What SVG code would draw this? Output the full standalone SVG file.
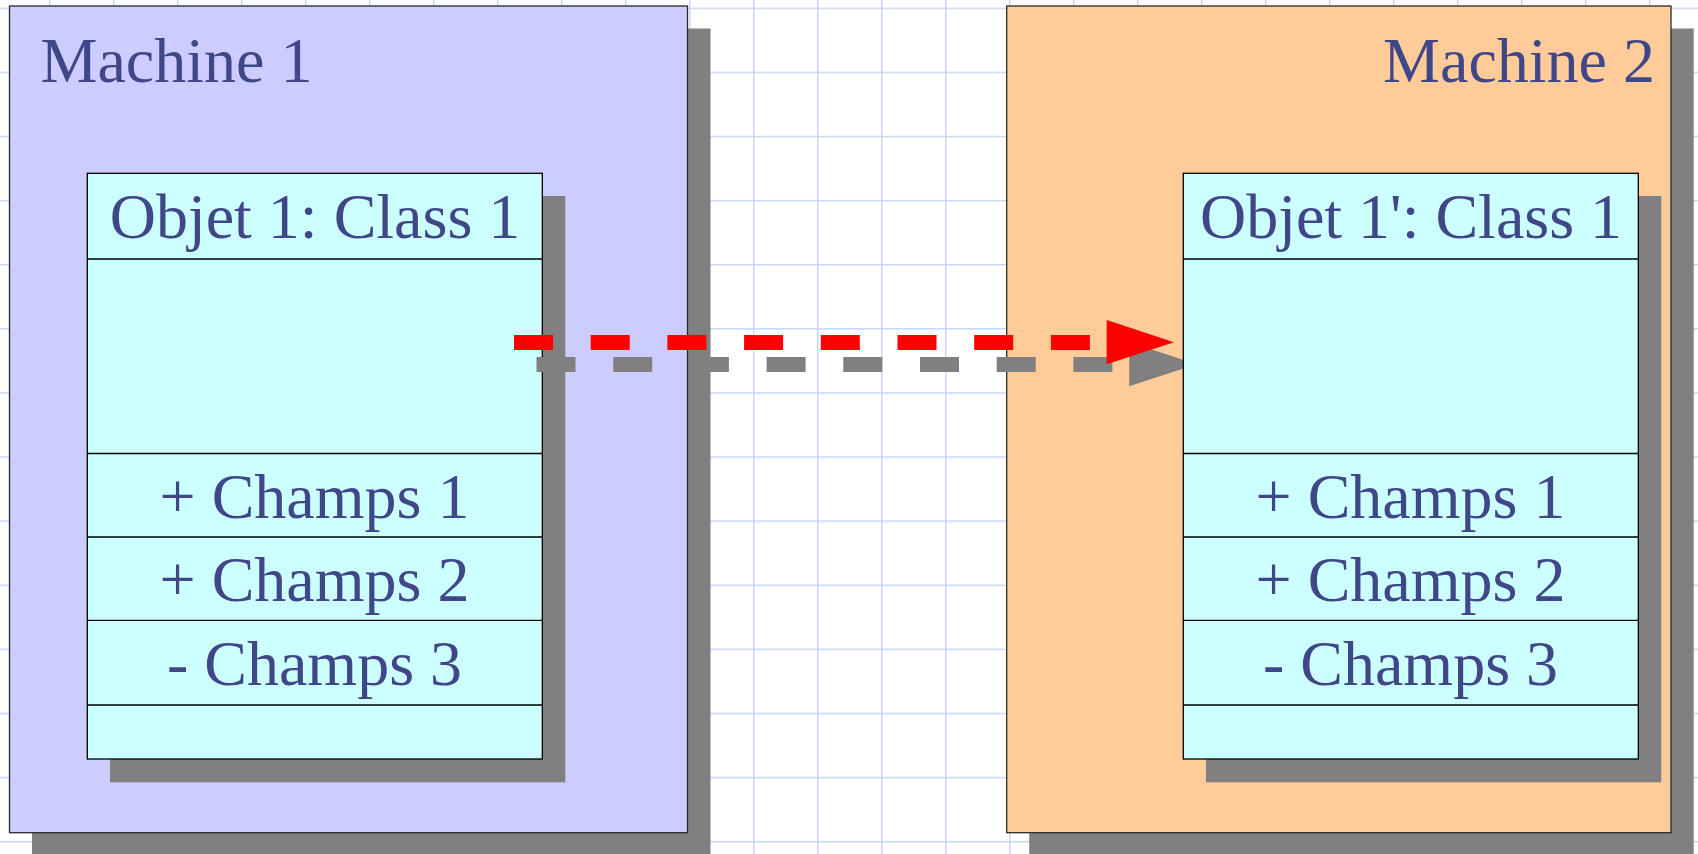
<svg xmlns="http://www.w3.org/2000/svg" width="1698" height="854" viewBox="0 0 1698 854">
<style>
.shadow{fill:#808080;stroke:none}
.mach{stroke:#2a2a2a;stroke-width:1.3}
.cls{fill:#ccffff;stroke:#000;stroke-width:1.3}
.sep{stroke:#000;stroke-width:1.3}
text{font-family:"Liberation Serif","Times New Roman",serif;font-size:64px;fill:#3f4788}
.c1{text-anchor:middle}
</style>
<defs>
<pattern id="grid" x="49" y="7.6" width="64" height="64.1" patternUnits="userSpaceOnUse">
<path d="M0 0H64M0 0V64.1" fill="none" stroke="#c8d4f8" stroke-width="2.8"/>
</pattern>
</defs>
<rect width="1698" height="854" fill="#ffffff"/>
<rect width="1698" height="854" fill="url(#grid)"/>
<g id="machine1">
<rect class="shadow" x="32" y="28.5" width="678.5" height="830"/>
<rect class="mach" x="9.5" y="6" width="678" height="826.7" fill="#ccccff"/>
<text x="40.5" y="81.7">Machine 1</text>
</g>
<g id="machine2">
<rect class="shadow" x="1029.2" y="28.5" width="664.5" height="830"/>
<rect class="mach" x="1006.7" y="6" width="664.3" height="826.7" fill="#ffcc99"/>
<text x="1655" y="81.7" text-anchor="end">Machine 2</text>
</g>
<g id="objet1">
<rect class="shadow" x="110" y="196" width="455.3" height="586.3"/>
<rect class="cls" x="87.3" y="173.3" width="455" height="585.7"/>
<path class="sep" d="M87.3 259H542.3M87.3 453.5H542.3M87.3 537H542.3M87.3 620.3H542.3M87.3 705H542.3"/>
<text class="c1" x="315" y="237.5">Objet 1: Class 1</text>
<text class="c1" x="314.5" y="518.3">+ Champs 1</text>
<text class="c1" x="314.5" y="601">+ Champs 2</text>
<text class="c1" x="314.5" y="685">- Champs 3</text>
</g>
<g id="connectors">
<path d="M536.5 364.5H1129.5" stroke="#808080" stroke-width="15" stroke-dasharray="39 37.7" fill="none"/>
<polygon points="1129.2,342 1196.5,364.3 1129.2,386.3" fill="#808080"/>
<path d="M514 342.5H1107" stroke="#ff0000" stroke-width="15" stroke-dasharray="39 37.7" fill="none"/>
<polygon points="1106.7,320 1174,342.3 1106.7,364.3" fill="#ff0000"/>
</g>
<g id="objet1prime">
<rect class="shadow" x="1206" y="196" width="455.3" height="586.3"/>
<rect class="cls" x="1183.3" y="173.3" width="455" height="585.7"/>
<path class="sep" d="M1183.3 259H1638.3M1183.3 453.5H1638.3M1183.3 537H1638.3M1183.3 620.3H1638.3M1183.3 705H1638.3"/>
<text class="c1" x="1411" y="237.5">Objet 1': Class 1</text>
<text class="c1" x="1410.5" y="518.3">+ Champs 1</text>
<text class="c1" x="1410.5" y="601">+ Champs 2</text>
<text class="c1" x="1410.5" y="685">- Champs 3</text>
</g>
</svg>
